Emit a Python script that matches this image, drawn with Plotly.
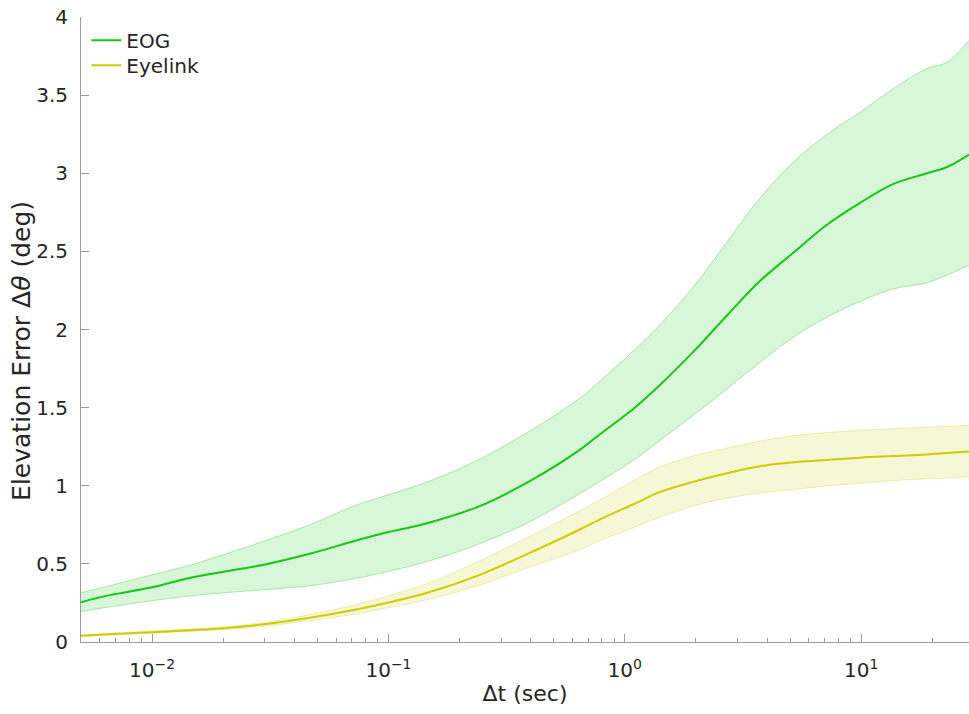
import plotly.graph_objects as go

# time lags (sec)
t = [0.005, 0.0066, 0.01, 0.0144, 0.0201, 0.0297, 0.0464, 0.0713, 0.0918, 0.1495,
     0.2435, 0.396, 0.645, 0.785, 1.082, 1.408, 1.943, 2.706, 3.73, 5.15,
     7.17, 9.89, 13.64, 19.0, 23.1, 28.6]

eog_mean = [0.255, 0.30, 0.35, 0.41, 0.45, 0.495, 0.565, 0.645, 0.69, 0.765,
            0.87, 1.03, 1.23, 1.33, 1.49, 1.645, 1.855, 2.09, 2.31, 2.49,
            2.67, 2.81, 2.93, 3.00, 3.04, 3.12]
eog_upper = [0.315, 0.36, 0.43, 0.49, 0.56, 0.645, 0.75, 0.87, 0.925, 1.03,
             1.17, 1.35, 1.56, 1.67, 1.86, 2.03, 2.27, 2.56, 2.84, 3.07,
             3.25, 3.39, 3.54, 3.67, 3.71, 3.85]
eog_lower = [0.195, 0.225, 0.265, 0.295, 0.315, 0.335, 0.36, 0.405, 0.44, 0.52,
             0.63, 0.77, 0.95, 1.03, 1.16, 1.29, 1.45, 1.62, 1.79, 1.95,
             2.08, 2.18, 2.26, 2.30, 2.35, 2.41]

eye_mean = [0.04, 0.05, 0.063, 0.075, 0.088, 0.113, 0.155, 0.205, 0.24, 0.32,
            0.43, 0.57, 0.72, 0.785, 0.88, 0.96, 1.025, 1.08, 1.125, 1.15,
            1.165, 1.18, 1.19, 1.20, 1.21, 1.22]
eye_upper = [0.045, 0.055, 0.07, 0.082, 0.097, 0.125, 0.175, 0.235, 0.28, 0.38,
             0.52, 0.675, 0.84, 0.91, 1.03, 1.12, 1.19, 1.24, 1.285, 1.32,
             1.34, 1.355, 1.365, 1.375, 1.38, 1.386]
eye_lower = [0.035, 0.045, 0.057, 0.068, 0.08, 0.10, 0.138, 0.178, 0.21, 0.275,
             0.365, 0.48, 0.59, 0.65, 0.73, 0.80, 0.87, 0.92, 0.955, 0.975,
             1.0, 1.015, 1.033, 1.045, 1.05, 1.06]

x_tickvals = [0.01, 0.1, 1, 10]
x_ticktext = ["10<sup>\u22122</sup>", "10<sup>\u22121</sup>", "10<sup>0</sup>", "10<sup>1</sup>"]
y_tickvals = [0, 0.5, 1, 1.5, 2, 2.5, 3, 3.5, 4]

FONT = "DejaVu Sans"
TXT = "#262626"
AX = "#9a9a9a"

series = [
    ("EOG", eog_mean, eog_upper, eog_lower, "rgb(20,200,20)", "rgb(216,247,216)", "rgb(165,232,165)", "legend"),
    ("Eyelink", eye_mean, eye_upper, eye_lower, "rgb(205,205,0)", "rgb(245,247,215)", "rgb(235,238,170)", "legend2"),
]

fig = go.Figure()
for name, m, up, lo, lc, fc, ec, lg in series:
    fig.add_trace(go.Scatter(x=t, y=lo, mode="lines", line=dict(color=ec, width=1, shape="spline"),
                             showlegend=False, hoverinfo="skip"))
    fig.add_trace(go.Scatter(x=t, y=up, mode="lines", line=dict(color=ec, width=1, shape="spline"),
                             fill="tonexty", fillcolor=fc, showlegend=False, hoverinfo="skip"))
for name, m, up, lo, lc, fc, ec, lg in series:
    fig.add_trace(go.Scatter(x=t, y=m, mode="lines", name=name, legend=lg,
                             line=dict(color=lc, width=2, shape="spline")))

leg_common = dict(xanchor="left", yanchor="middle", bgcolor="rgba(0,0,0,0)",
                  font=dict(family=FONT, size=20, color=TXT), itemwidth=30,
                  traceorder="normal")

fig.update_layout(
    width=969, height=714,
    margin=dict(l=81, r=0, t=17, b=72, autoexpand=False),
    paper_bgcolor="white", plot_bgcolor="white",
    font=dict(family=FONT, size=20, color=TXT),
    showlegend=True,
    legend=dict(x=0.006, y=0.9627, **leg_common),
    legend2=dict(x=0.006, y=0.9227, **leg_common),
    xaxis=dict(type="log", range=[-2.30103, 1.45637],
               tickmode="array", tickvals=x_tickvals, ticktext=x_ticktext,
               ticks="inside", ticklen=8, tickcolor=AX, tickwidth=1,
               showline=True, linecolor=AX, linewidth=1, mirror=False,
               showgrid=False, zeroline=False,
               minor=dict(dtick="D1", ticks="inside", ticklen=4, tickcolor=AX, showgrid=False),
               tickfont=dict(size=20, color=TXT), ticklabelstandoff=10,
               title=dict(text="\u0394t (sec)", font=dict(size=22, color=TXT), standoff=4),
               automargin=False),
    yaxis=dict(range=[0, 4], tickmode="array", tickvals=y_tickvals,
               ticks="inside", ticklen=8, tickcolor=AX, tickwidth=1,
               showline=True, linecolor=AX, linewidth=1, mirror=False,
               showgrid=False, zeroline=False,
               tickfont=dict(size=20, color=TXT), ticklabelstandoff=8,
               automargin=False),
    annotations=[dict(text="Elevation Error \u0394<i>\u03b8</i> (deg)", textangle=-90,
                      xref="paper", yref="paper", x=-0.067, y=0.465,
                      xanchor="center", yanchor="middle", showarrow=False,
                      font=dict(family=FONT, size=25, color=TXT))],
)

fig.write_html("out.html")
